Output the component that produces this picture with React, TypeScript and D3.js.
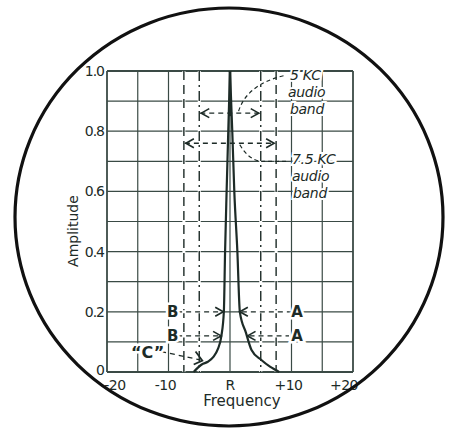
import React from "react";
import * as d3 from "d3";

// ---- data ----
const xDomain = [-20, 20];
const yDomain = [0, 1];
const gridFreqs = [-20, -15, -10, 0, 10, 15, 20];
const gridAmps = [0, 0.1, 0.2, 0.3, 0.4, 0.5, 0.6, 0.7, 0.8, 0.9, 1.0];
const xTickValues = [-20, -10, 0, 10, 20];
const xTickLabels = ["-20", "-10", "R", "+10", "+20"];
const yTickValues = [1.0, 0.8, 0.6, 0.4, 0.2, 0];
const yTickLabels = ["1.0", "0.8", "0.6", "0.4", "0.2", "0"];

// resonance curve (frequency offset, amplitude)
const leftFreq = [-5.9, -5.3, -4.6, -3.6, -2.7, -2.0, -1.4, -1.0, -0.8, -0.55, -0.28, 0];
const leftAmp = [0.0, 0.013, 0.025, 0.034, 0.05, 0.075, 0.12, 0.2, 0.4, 0.6, 0.8, 1.0];
const rightFreq = [0, 0.37, 0.7, 1.2, 1.6, 2.6, 3.5, 5.1, 6.5, 7.6, 8.0];
const rightAmp = [1.0, 0.8, 0.6, 0.4, 0.2, 0.13, 0.073, 0.04, 0.018, 0.005, 0];

// audio bands
const bandHalfWidths = [5, 7.5];
const bandArrowAmps = [0.86, 0.76];
const bandLabels = [["5 KC", "audio", "band"], ["7.5 KC", "audio", "band"]];

// B / A marker rows
const rowAmps = [0.2, 0.12];
const rowLeftTips = [-1.1, -1.45];
const rowRightTips = [1.6, 2.85];

const INK = "#1d2b27";
const GRID = "#3a4a45";

export default function App() {
  const x = d3.scaleLinear().domain(xDomain).range([107, 353]);
  const y = d3.scaleLinear().domain(yDomain).range([372, 71]);

  const leftPts: [number, number][] = leftFreq.map((f, i) => [x(f), y(leftAmp[i])]);
  const rightPts: [number, number][] = rightFreq.map((f, i) => [x(f), y(rightAmp[i])]);
  const lineGen = d3.line().curve(d3.curveMonotoneX);

  const chev = (tx: number, ty: number, dir: number) =>
    `M${tx - dir * 8},${ty - 4.5} L${tx},${ty} L${tx - dir * 8},${ty + 4.5}`;

  const labelStyle: React.CSSProperties = { paintOrder: "stroke" };

  const xL = x(-20), xR = x(20), yT = y(1), yB = y(0);

  return (
    <svg
      width={450}
      height={432}
      style={{ position: "absolute", left: 0, top: 0, background: "#fff" }}
      fontFamily="'DejaVu Sans', sans-serif"
    >
      <rect x={0} y={0} width={450} height={432} fill="#fff" />
      {/* grid */}
      {gridFreqs.map((f) => (
        <line key={"gx" + f} x1={x(f)} x2={x(f)} y1={yT} y2={yB} stroke={GRID}
          strokeWidth={f === -20 || f === 20 ? 1.8 : 1.2} />
      ))}
      {gridAmps.map((a) => (
        <line key={"gy" + a} x1={xL} x2={xR} y1={y(a)} y2={y(a)} stroke={GRID}
          strokeWidth={a === 0 || a === 1 ? 1.8 : 1.2} />
      ))}

      {/* band boundary lines */}
      {bandHalfWidths.map((h, i) =>
        [-1, 1].map((s) => (
          <g key={"b" + i + s}>
            <line x1={x(s * h)} x2={x(s * h)} y1={yT} y2={yB} stroke="#fff" strokeWidth={3} />
            <line x1={x(s * h)} x2={x(s * h)} y1={yT} y2={yB} stroke={INK} strokeWidth={1.4}
              strokeDasharray={i === 0 ? "10,4,2,4" : "9,5"} />
          </g>
        ))
      )}

      {/* band arrows */}
      {bandHalfWidths.map((h, i) => {
        const yy = y(bandArrowAmps[i]);
        return (
          <g key={"ba" + i} fill="none" stroke={INK} strokeWidth={1.3}>
            <line x1={x(-h) + 1} x2={x(h) - 1} y1={yy} y2={yy} strokeDasharray="5,4" />
            <path d={chev(x(-h) + 2, yy, -1)} strokeWidth={1.6} />
            <path d={chev(x(h) - 2, yy, 1)} strokeWidth={1.6} />
          </g>
        );
      })}

      {/* leaders to band labels */}
      <path d={`M${x(1.4)},${y(0.86) - 2} C${x(2.2)},${y(0.92)} ${x(4.5)},${y(0.965)} ${x(8.9)},${y(0.985)}`}
        fill="none" stroke={INK} strokeWidth={1.2} strokeDasharray="4,3" />
      <path d={`M${x(1.6)},${y(0.755)} Q${x(3.0)},${y(0.705)} ${x(5.0)},${y(0.7)} L${x(9.5)},${y(0.7)}`}
        fill="none" stroke={INK} strokeWidth={1.2} strokeDasharray="4,3" />

      {bandLabels.map((lbl, i) => {
        const baseY = i === 0 ? [80, 97, 114] : [164, 181, 198];
        const baseX = i === 0 ? [290, 288, 290] : [292, 292, 293];
        return lbl.map((t, j) => (
          <text key={"bl" + i + j} x={baseX[j]} y={baseY[j]} fontSize={14} fontStyle="italic"
            fill={INK} stroke="#fff" strokeWidth={4} style={labelStyle} letterSpacing={-0.3}>
            {t}
          </text>
        ));
      })}

      {/* B / A rows */}
      {rowAmps.map((a, i) => {
        const yy = y(a);
        const lt = x(rowLeftTips[i]);
        const rt = x(rowRightTips[i]);
        return (
          <g key={"row" + i}>
            <line x1={x(-8.6)} x2={lt} y1={yy} y2={yy} stroke="#fff" strokeWidth={3} />
            <line x1={rt} x2={x(9.6)} y1={yy} y2={yy} stroke="#fff" strokeWidth={3} />
            <line x1={x(-8.6)} x2={lt - 2} y1={yy} y2={yy} stroke={INK} strokeWidth={1.3} strokeDasharray="5,4" />
            <line x1={rt + 2} x2={x(9.6)} y1={yy} y2={yy} stroke={INK} strokeWidth={1.3} strokeDasharray="5,4" />
            <path d={chev(lt, yy, 1)} fill="none" stroke={INK} strokeWidth={1.7} />
            <path d={chev(rt, yy, -1)} fill="none" stroke={INK} strokeWidth={1.7} />
            <text x={x(-9.3)} y={yy + 5.5} textAnchor="middle" fontSize={15} fontWeight="bold"
              fill={INK} stroke="#fff" strokeWidth={5} style={labelStyle}>B</text>
            <text x={x(10.9)} y={yy + 5.5} textAnchor="middle" fontSize={15} fontWeight="bold"
              fill={INK} stroke="#fff" strokeWidth={5} style={labelStyle}>A</text>
          </g>
        );
      })}

      {/* "C" label */}
      <line x1={x(-11.2)} x2={x(-4.8)} y1={y(0.068)} y2={y(0.04)} stroke={INK} strokeWidth={1.3} strokeDasharray="5,4" />
      <path d={`M${x(-5.6)},${y(0.068)} L${x(-4.5)},${y(0.038)} L${x(-5.9)},${y(0.025)}`} fill="none" stroke={INK} strokeWidth={1.8} />
      <text x={x(-13.4)} y={y(0.045)} textAnchor="middle" fontSize={16} fontWeight="bold"
        fill={INK} stroke="#fff" strokeWidth={5} style={labelStyle}>“C”</text>

      {/* resonance curve */}
      <path d={lineGen(leftPts) || ""} fill="none" stroke={INK} strokeWidth={2.2} strokeLinejoin="round" />
      <path d={lineGen(rightPts) || ""} fill="none" stroke={INK} strokeWidth={2.2} strokeLinejoin="round" />
      <line x1={x(0)} x2={x(0)} y1={yT} y2={y(0.85)} stroke={INK} strokeWidth={2.5} />

      {/* y tick labels */}
      {yTickValues.map((v, i) => (
        <text key={"yt" + v} x={104} y={y(v) + (v === 0 ? 3 : 5)} textAnchor="end" fontSize={14}
          fill={INK} letterSpacing={-1}>
          {yTickLabels[i]}
        </text>
      ))}
      {/* x tick labels */}
      {xTickValues.map((v, i) => (
        <text key={"xt" + v} x={x(v) + (v === -20 ? 8 : v === 20 ? -9 : v === 0 ? 0 : -3)} y={390}
          textAnchor="middle" fontSize={14} fill={INK} letterSpacing={-0.5}>
          {xTickLabels[i]}
        </text>
      ))}
      <text x={242} y={406} textAnchor="middle" fontSize={15} fill={INK}>Frequency</text>
      <text transform="translate(78,231) rotate(-90)" textAnchor="middle" fontSize={14} fill={INK}>Amplitude</text>

      {/* round frame */}
      <ellipse cx={229} cy={217} rx={214} ry={209} fill="none" stroke="#111" strokeWidth={3.2} />
    </svg>
  );
}
